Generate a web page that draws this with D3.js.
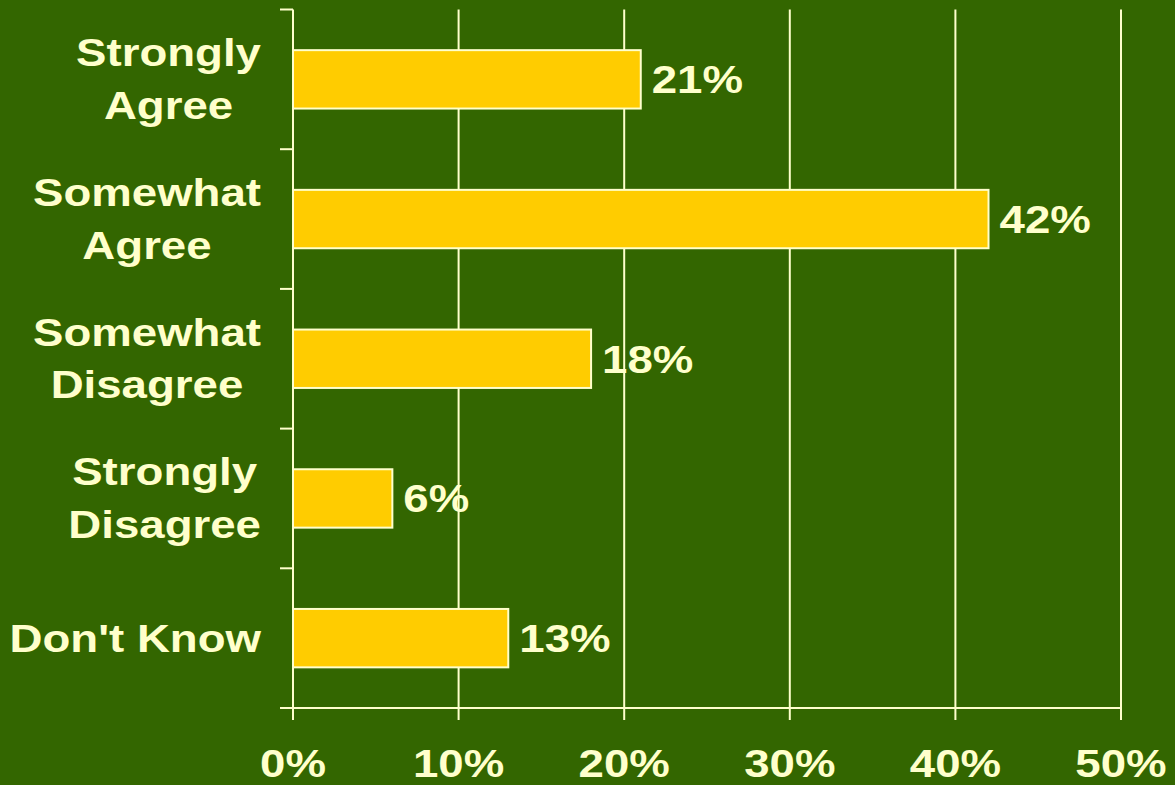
<!DOCTYPE html>
<html>
<head>
<meta charset="utf-8">
<script src="https://cdn.jsdelivr.net/npm/d3@7"></script>
<style>
  html, body { margin: 0; padding: 0; background: #336600; }
  svg { display: block; }
  text { font-family: "Liberation Sans", Arial, sans-serif; font-weight: bold; fill: #FFFFCC; }
</style>
</head>
<body>
<svg id="chart" width="1175" height="785"></svg>
<script>
const categories = [["Strongly", "Agree"], ["Somewhat", "Agree"], ["Somewhat", "Disagree"], ["Strongly", "Disagree"], ["Don't Know"]];
const values = [21, 42, 18, 6, 13];
const xTicks = [0, 10, 20, 30, 40, 50];
const xTickLabels = ["0%", "10%", "20%", "30%", "40%", "50%"];

const W = 1175, H = 785;
const cream = "#FFFFCC", bar = "#FFCC00", bg = "#336600";
const fs = 38, sx = 1.2;
const svg = d3.select("#chart");
svg.append("rect").attr("width", W).attr("height", H).attr("fill", bg);

const keys = categories.map(c => c.join(" "));
const x = d3.scaleLinear().domain([0, 50]).range([293, 1121]);
const y = d3.scaleBand().domain(keys).range([9.5, 708]).padding(0);
const barH = y.bandwidth() * 0.418;

// gridlines and x ticks
svg.append("g").selectAll("line").data(xTicks).join("line")
  .attr("x1", d => x(d)).attr("x2", d => x(d))
  .attr("y1", 9.5).attr("y2", 720)
  .attr("stroke", cream).attr("stroke-width", 2);

// x axis line
svg.append("line").attr("x1", 280).attr("x2", x(50)).attr("y1", 708).attr("y2", 708)
  .attr("stroke", cream).attr("stroke-width", 2);

// y ticks at band boundaries
const yBounds = keys.map(k => y(k)).concat([y(keys[keys.length - 1]) + y.bandwidth()]);
svg.append("g").selectAll("line").data(yBounds).join("line")
  .attr("x1", 280).attr("x2", x(0)).attr("y1", d => d).attr("y2", d => d)
  .attr("stroke", cream).attr("stroke-width", 2);

// bars
svg.append("g").selectAll("rect").data(values).join("rect")
  .attr("x", x(0))
  .attr("y", (d, i) => y(keys[i]) + (y.bandwidth() - barH) / 2)
  .attr("width", d => x(d) - x(0))
  .attr("height", barH)
  .attr("fill", bar).attr("stroke", cream).attr("stroke-width", 2);

// value labels
svg.append("g").selectAll("text").data(values).join("text")
  .attr("transform", (d, i) => `translate(${x(d) + 11},${y(keys[i]) + y.bandwidth() / 2 + 14}) scale(${sx},1)`)
  .attr("font-size", fs)
  .text(d => d + "%");

// x tick labels
svg.append("g").selectAll("text").data(xTicks).join("text")
  .attr("transform", d => `translate(${x(d)},777) scale(${sx},1)`)
  .attr("text-anchor", "middle")
  .attr("font-size", fs)
  .text((d, i) => xTickLabels[i]);

// category labels
const catG = svg.append("g");
categories.forEach((lines, i) => {
  const cy = y(keys[i]) + y.bandwidth() / 2;
  const g = catG.append("g");
  const texts = lines.map((ln, j) => {
    const base = lines.length === 1 ? cy + 13.5 : cy - 13 + j * 52.5;
    return g.append("text").attr("font-size", fs).attr("text-anchor", "middle")
      .attr("data-base", base).text(ln);
  });
  const maxW = d3.max(texts, t => t.node().getComputedTextLength()) * sx;
  const cx = 261 - maxW / 2;
  texts.forEach(t => t.attr("transform", `translate(${cx},${t.attr("data-base")}) scale(${sx},1)`));
});
</script>
</body>
</html>
